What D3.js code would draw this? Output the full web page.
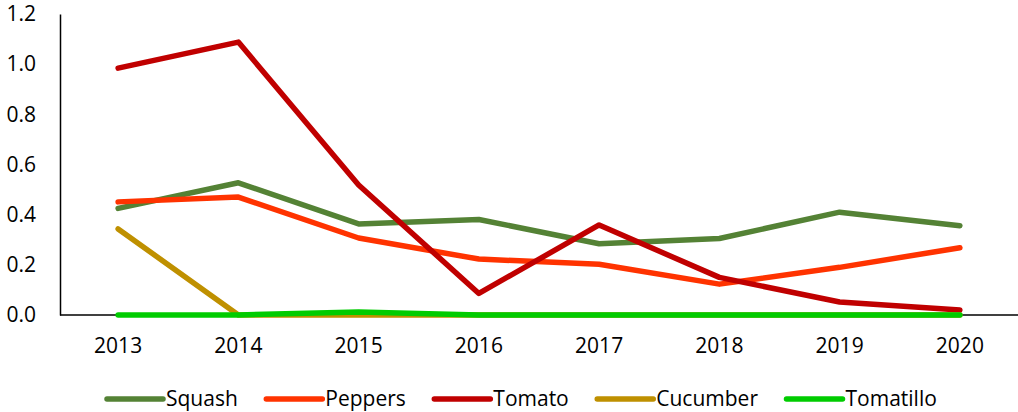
<!DOCTYPE html>
<html>
<head>
<meta charset="utf-8">
<script src="https://cdn.jsdelivr.net/npm/d3@7"></script>
<style>
  body { margin: 0; background: #fff; }
  text { font-family: "Open Sans", sans-serif; font-size: 21px; fill: #000; }
</style>
</head>
<body>
<div id="chart"></div>
<script>
// chart values
var years = ["2013", "2014", "2015", "2016", "2017", "2018", "2019", "2020"];
var yTicks = [0, 0.2, 0.4, 0.6, 0.8, 1.0, 1.2];

var squash    = [0.425, 0.527, 0.363, 0.381, 0.284, 0.305, 0.41, 0.356];
var peppers   = [0.451, 0.47, 0.307, 0.223, 0.202, 0.123, 0.19, 0.268];
var tomato    = [0.984, 1.088, 0.518, 0.086, 0.359, 0.15, 0.052, 0.02];
var cucumber  = [0.343, 0, 0, 0, 0, 0, 0, 0];
var tomatillo = [0, 0, 0.012, 0, 0, 0, 0, 0];

var seriesNames = ["Squash", "Peppers", "Tomato", "Cucumber", "Tomatillo"];
var seriesColors = ["#548235", "#FF3300", "#C00000", "#BF9000", "#00CC00"];

var series = [squash, peppers, tomato, cucumber, tomatillo].map(function(vals, i) {
  return { name: seriesNames[i], color: seriesColors[i], values: vals };
});

var width = 1018,
    height = 412;

var svg = d3.select("#chart").append("svg")
    .attr("width", width)
    .attr("height", height);

var x = d3.scaleBand()
    .domain(years)
    .range([58, 1020]);

var y = d3.scaleLinear()
    .domain([0, 1.2])
    .range([315, 14]);

// y axis: line plus labels, no tick marks
var yAxis = svg.append("g")
    .attr("transform", "translate(60,0)")
    .call(d3.axisLeft(y).tickValues(yTicks).tickFormat(d3.format(".1f")).tickSize(0).tickPadding(24));
yAxis.select(".domain").attr("stroke", "#000").attr("stroke-width", 1.5);
yAxis.selectAll("text").style("font-family", "'Open Sans', sans-serif").style("font-size", "21px").attr("fill", "#000");

// x axis along zero
var xAxis = svg.append("g")
    .attr("transform", "translate(0," + y(0) + ")")
    .call(d3.axisBottom(x).tickSize(0).tickPadding(23));
xAxis.select(".domain").attr("stroke", "#000").attr("stroke-width", 1.5)
    .attr("d", "M60,0H1018");
xAxis.selectAll("text").style("font-family", "'Open Sans', sans-serif").style("font-size", "21px").attr("fill", "#000");

var line = d3.line()
    .x(function(d, i) { return x(years[i]) + x.bandwidth() / 2; })
    .y(function(d) { return y(d); });

svg.append("g").selectAll("path")
    .data(series)
    .enter().append("path")
      .attr("fill", "none")
      .attr("stroke", function(d) { return d.color; })
      .attr("stroke-width", 5.5)
      .attr("stroke-linejoin", "round")
      .attr("stroke-linecap", "round")
      .attr("d", function(d) { return line(d.values); });

// legend at the bottom
var legend = svg.append("g").attr("class", "legend");
var lx = 107, ly = 399;
series.forEach(function(s) {
  var item = legend.append("g").attr("transform", "translate(" + lx + "," + ly + ")");
  item.append("line")
      .attr("x1", 0).attr("x2", 56)
      .attr("y1", 0).attr("y2", 0)
      .attr("stroke", s.color)
      .attr("stroke-width", 5.5)
      .attr("stroke-linecap", "round");
  var t = item.append("text")
      .attr("x", 59)
      .attr("dy", "0.35em")
      .text(s.name);
  lx += 59 + t.node().getComputedTextLength() + 28.5;
});
</script>
</body>
</html>
